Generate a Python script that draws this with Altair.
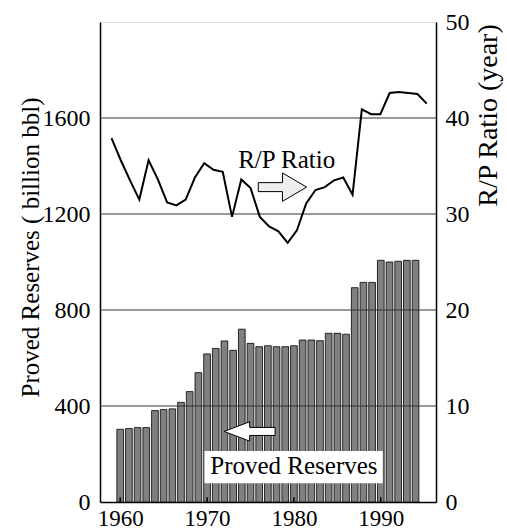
import altair as alt
import pandas as pd

# ---- data ----
years = list(range(1960, 1995))
reserves = [303, 306, 310, 310, 381, 385, 388, 415, 460, 539,
            617, 640, 671, 632, 720, 661, 647, 651, 647, 647,
            651, 675, 675, 672, 703, 703, 699, 893, 915, 915,
            1007, 1000, 1003, 1007, 1007]
rp_ratio = [37.9, 35.6, 33.5, 31.5, 35.6, 33.6, 31.2, 30.9, 31.5, 33.8,
            35.3, 34.6, 34.4, 29.7, 33.6, 32.7, 29.7, 28.7, 28.2, 27.0,
            28.3, 31.1, 32.5, 32.8, 33.5, 33.8, 32.0, 40.9, 40.4, 40.4,
            42.6, 42.7, 42.6, 42.5, 41.5]
x_ticks = [1960, 1970, 1980, 1990]
left_ticks = [0, 400, 800, 1200, 1600]
right_ticks = [0, 10, 20, 30, 40, 50]
grid_values = [400, 800, 1200, 1600]

FONT = "'Liberation Serif', 'Times New Roman', 'DejaVu Serif', serif"

df = pd.DataFrame({"year": years, "reserves": reserves, "rp": rp_ratio})
tick_df = pd.DataFrame({"year": x_ticks, "y0": [0] * 4, "y1": [20] * 4})
grid_df = pd.DataFrame({"v": grid_values})

xs = alt.Scale(domain=[1958.25, 1995.78], nice=False, zero=False)
ys = alt.Scale(domain=[0, 2000], nice=False)

bars = alt.Chart(df).mark_bar(size=6.7, fill="#808080", stroke="black",
                              strokeWidth=0.8).encode(
    x=alt.X("year:Q", scale=xs,
            axis=alt.Axis(values=x_ticks, format="d", title=None, ticks=False,
                          domain=True, domainColor="black", domainWidth=1.5,
                          grid=False, labelFont=FONT,
                          labelFontSize=23, labelColor="black",
                          labelPadding=5)),
    y=alt.Y("reserves:Q", scale=ys,
            axis=alt.Axis(values=left_ticks, format="d", orient="left", ticks=False,
                          domain=True, domainColor="black", domainWidth=1.5,
                          grid=False, labelFont=FONT,
                          labelFontSize=24, labelColor="black",
                          labelPadding=10,
                          title="Proved Reserves ( billion bbl)",
                          titleFont=FONT, titleFontSize=25,
                          titleFontWeight="normal", titleColor="black",
                          titleAngle=270, titleX=-70, titleY=225,
                          titleAlign="center", titleBaseline="middle")),
)

grid = alt.Chart(grid_df).mark_rule(color="#333333", strokeWidth=1).encode(
    y=alt.Y("v:Q", scale=ys)
)

xticks = alt.Chart(tick_df).mark_rule(color="black", strokeWidth=1.5).encode(
    x=alt.X("year:Q", scale=xs), y=alt.Y("y0:Q", scale=ys), y2="y1:Q"
)

box_df = pd.DataFrame({"x0": [1969.7], "x1": [1990.23], "y0": [78], "y1": [212]})
box = alt.Chart(box_df).mark_rect(fill="white").encode(
    x=alt.X("x0:Q", scale=xs), x2="x1:Q",
    y=alt.Y("y0:Q", scale=ys), y2="y1:Q"
)

label_rp = pd.DataFrame({"x": [1973.58], "y": [1390], "t": ["R/P Ratio"]})
text_rp = alt.Chart(label_rp).mark_text(font=FONT, fontSize=25, align="left",
                                        baseline="alphabetic", color="black").encode(
    x=alt.X("x:Q", scale=xs), y=alt.Y("y:Q", scale=ys), text="t:N"
)
label_pr = pd.DataFrame({"x": [1980.0], "y": [115], "t": ["Proved Reserves"]})
text_pr = alt.Chart(label_pr).mark_text(font=FONT, fontSize=25, align="center",
                                        baseline="alphabetic", color="black").encode(
    x=alt.X("x:Q", scale=xs), y=alt.Y("y:Q", scale=ys), text="t:N"
)

right_arrow_path = "M-1,-0.186 L0,-0.186 L0,-0.587 L1,0 L0,0.587 L0,0.186 L-1,0.186 Z"
left_arrow_path = "M1,-0.157 L0,-0.157 L0,-0.38 L-1,0 L0,0.38 L0,0.157 L1,0.157 Z"

ra_df = pd.DataFrame({"x": [1978.68], "y": [1312]})
arrow_r = alt.Chart(ra_df).mark_point(shape=right_arrow_path, size=2343, filled=True,
                                      fill="#eeeeee", stroke="black", strokeWidth=1,
                                      opacity=1).encode(
    x=alt.X("x:Q", scale=xs), y=alt.Y("y:Q", scale=ys)
)
la_df = pd.DataFrame({"x": [1974.9], "y": [294]})
arrow_l = alt.Chart(la_df).mark_point(shape=left_arrow_path, size=2601, filled=True,
                                      fill="white", stroke="black", strokeWidth=1,
                                      opacity=1).encode(
    x=alt.X("x:Q", scale=xs), y=alt.Y("y:Q", scale=ys)
)

left_group = alt.layer(bars, grid, xticks, box, text_rp, text_pr, arrow_r, arrow_l)

line = alt.Chart(df).mark_line(color="black", strokeWidth=2).encode(
    x=alt.X("year:Q", scale=alt.Scale(domain=[1958.76, 1995.0], nice=False, zero=False),
            axis=None),
    y=alt.Y("rp:Q", scale=alt.Scale(domain=[0, 50], nice=False),
            axis=alt.Axis(values=right_ticks, format="d", orient="right", ticks=False,
                          domain=True, domainColor="black", domainWidth=1.5,
                          grid=False, labelFont=FONT,
                          labelFontSize=24, labelColor="black", labelPadding=9,
                          title="R/P Ratio (year)", titleFont=FONT,
                          titleFontSize=28, titleFontWeight="normal",
                          titleColor="black", titleAngle=270, titleX=52,
                          titleY=93, titleAlign="center",
                          titleBaseline="middle")),
)

chart = alt.layer(left_group, line).resolve_scale(
    x="independent", y="independent"
).properties(
    width=336, height=480,
    autosize=alt.AutoSizeParams(type="none"),
    padding={"left": 100, "top": 22, "right": 71, "bottom": 30},
    background="white",
).configure_view(stroke="black", strokeWidth=2).configure_axis(
    labelFont=FONT, titleFont=FONT
).configure(font=FONT)

chart.save("out.html", embed_options={"renderer": "svg", "actions": False})
